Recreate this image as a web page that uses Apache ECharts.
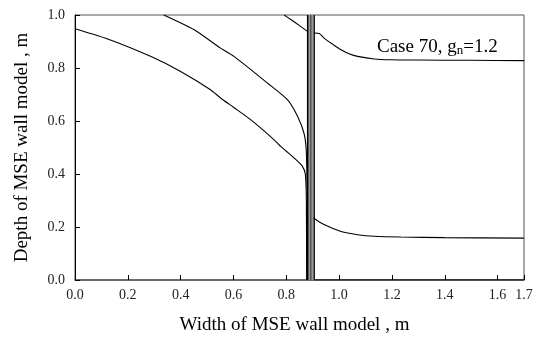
<!DOCTYPE html>
<html>
<head>
<meta charset="utf-8">
<script src="https://cdn.jsdelivr.net/npm/echarts@6/dist/echarts.min.js"></script>
<style>
  html, body { margin: 0; padding: 0; background: #fff; }
  #chart { width: 539px; height: 342px; }
</style>
</head>
<body>
<div id="chart"></div>
<script>
// values
const xTicks = [0, 0.2, 0.4, 0.6, 0.8, 1.0, 1.2, 1.4, 1.6, 1.7]

const lowerLeftX = [0, 0.134, 0.286, 0.40, 0.513, 0.551, 0.60, 0.665, 0.754, 0.779, 0.80, 0.830, 0.861, 0.872, 0.876, 0.877]
const lowerLeftY = [0.948, 0.906, 0.844, 0.787, 0.718, 0.687, 0.652, 0.605, 0.529, 0.504, 0.486, 0.460, 0.429, 0.40, 0.30, 0.0]

const upperLeftX = [0.336, 0.450, 0.551, 0.602, 0.729, 0.805, 0.843, 0.868, 0.876, 0.879, 0.880]
const upperLeftY = [1.0, 0.945, 0.875, 0.844, 0.743, 0.680, 0.617, 0.55, 0.48, 0.30, 0.0]

const topLeftX = [0.792, 0.817, 0.850, 0.880]
const topLeftY = [1.0, 0.983, 0.96, 0.938]

const topRightX = [0.906, 0.925, 0.943, 0.975, 1.007, 1.040, 1.070, 1.133, 1.197, 1.3, 1.5, 1.7]
const topRightY = [0.932, 0.93, 0.913, 0.89, 0.869, 0.853, 0.844, 0.834, 0.831, 0.83, 0.829, 0.828]

const midRightX = [0.903, 0.943, 1.007, 1.070, 1.133, 1.234, 1.4, 1.7]
const midRightY = [0.234, 0.209, 0.183, 0.171, 0.165, 0.162, 0.16, 0.158]

const bottomRightX = [0.906, 1.7]
const bottomRightY = [0, 0]

const wallX = [0.881, 0.893, 0.906]
const wallBandX = 0.8935

const font = "'Liberation Serif', 'Times New Roman', serif"

const pairs = (xs, ys) => xs.map((x, i) => [x, ys[i]])

const curve = (xs, ys, smooth) => ({
  type: 'line',
  data: pairs(xs, ys),
  smooth: smooth || false,
  showSymbol: false,
  silent: true,
  lineStyle: { color: '#000', width: 1.1 },
  z: 3
})

const vline = (x, color, width, z) => ({
  type: 'line',
  data: [[x, 0], [x, 1]],
  showSymbol: false,
  silent: true,
  lineStyle: { color, width },
  z
})

const chart = echarts.init(document.getElementById('chart'))

chart.setOption({
  animation: false,
  grid: {
    left: 75,
    right: 15,
    top: 15,
    bottom: 62,
    show: true,
    borderColor: '#555',
    borderWidth: 1
  },
  xAxis: {
    type: 'value',
    min: 0,
    max: 1.7,
    interval: 0.2,
    name: 'Width of MSE wall model , m',
    nameLocation: 'middle',
    nameGap: 36,
    nameTextStyle: { fontFamily: font, fontSize: 19, color: '#000', padding: [0, 10, 0, 0] },
    axisLine: { lineStyle: { color: '#555', width: 1.5 } },
    axisTick: { inside: true, length: 5, lineStyle: { color: '#000' } },
    axisLabel: {
      fontFamily: font,
      fontSize: 14,
      color: '#222',
      margin: 8,
      formatter: (v) => (xTicks.includes(+v.toFixed(1)) ? v.toFixed(1) : '')
    },
    splitLine: { show: false }
  },
  yAxis: {
    type: 'value',
    min: 0,
    max: 1,
    interval: 0.2,
    name: 'Depth of MSE wall model , m',
    nameLocation: 'middle',
    nameGap: 43,
    nameTextStyle: { fontFamily: font, fontSize: 19, color: '#000' },
    axisLine: { lineStyle: { color: '#000', width: 1 } },
    axisTick: { inside: true, length: 5, lineStyle: { color: '#000' } },
    axisLabel: {
      fontFamily: font,
      fontSize: 14,
      color: '#222',
      margin: 10,
      formatter: (v) => v.toFixed(1)
    },
    splitLine: { show: false }
  },
  graphic: [{
    type: 'text',
    left: 377,
    top: 38,
    style: {
      text: '{a|Case 70, g}{n|n}{a|=1.2}',
      fill: '#000',
      rich: {
        a: { fontFamily: font, fontSize: 19, color: '#000' },
        n: { fontFamily: font, fontSize: 13, color: '#000', padding: [7, 0, 0, 0] }
      }
    }
  }],
  series: [
    vline(wallBandX, '#999', 7, 1),
    vline(wallX[0], '#000', 1.5, 2),
    vline(wallX[1], '#333', 1, 2),
    vline(wallX[2], '#000', 1.2, 2),
    curve(lowerLeftX, lowerLeftY, 0.2),
    curve(upperLeftX, upperLeftY, 0.2),
    curve(topLeftX, topLeftY, 0.2),
    curve(topRightX, topRightY, 0.3),
    curve(midRightX, midRightY, 0.3),
    curve(bottomRightX, bottomRightY)
  ]
})
</script>
</body>
</html>
